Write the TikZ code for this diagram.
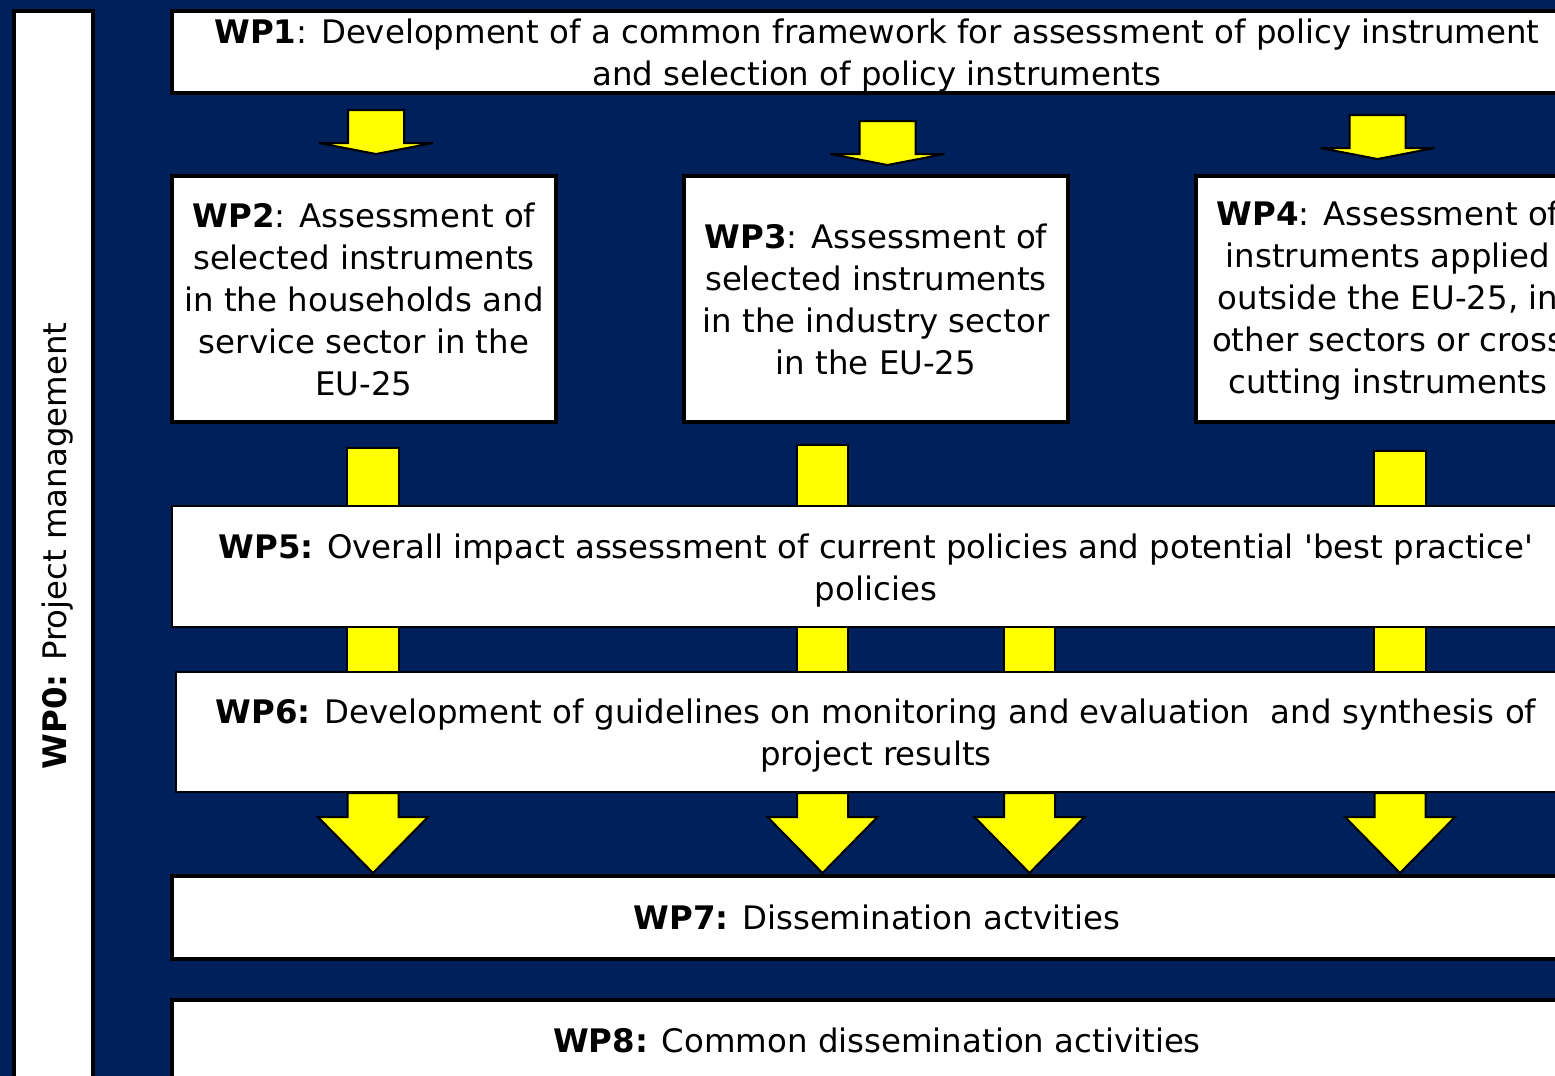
\documentclass[tikz,border=0pt]{standalone}
\usepackage{fontspec}
\setmainfont{DejaVu Sans}
\definecolor{navy}{RGB}{0,32,91}
\definecolor{arrowyellow}{RGB}{255,255,0}
\tikzset{
  wpbox/.style={draw=black, fill=white, line width=2pt, rectangle, inner sep=0pt, outer sep=0pt},
  thinbox/.style={wpbox, line width=0.9pt},
  wptext/.style={align=center, inner sep=0pt, font=\fontsize{16.2}{21}\selectfont},
  yel/.style={fill=arrowyellow, draw=black, line width=1pt, line join=miter},
  flatarrow/.pic={\filldraw[yel] (-28,0) -- (28,0) -- (28,33) -- (57,33) -- (0,44) -- (-57,33) -- (-28,33) -- cycle;},
  bigarrow/.pic={\filldraw[yel] (-25.5,0) -- (25.5,0) -- (25.5,24) -- (55,24) -- (0,80) -- (-55,24) -- (-25.5,24) -- cycle;}
}
\begin{document}
\begin{tikzpicture}[x=0.5pt,y=-0.5pt]
\fill[navy] (0,0) rectangle (1555,1076);
\useasboundingbox (0,0) rectangle (1555,1076);
\begin{scope}
\clip (0,0) rectangle (1555,1076);
% arrows WP1 -> WP2/3/4
\pic at (376,110) {flatarrow};
\pic at (887.5,121) {flatarrow};
\pic at (1377.5,115) {flatarrow};
% connectors WP2/3/4 -> WP5
\filldraw[yel] (347,448) rectangle (399,506);
\filldraw[yel] (797,445) rectangle (848,506);
\filldraw[yel] (1374,451) rectangle (1426,506);
% connectors WP5 -> WP6
\filldraw[yel] (347,627) rectangle (399,672);
\filldraw[yel] (797,627) rectangle (848,672);
\filldraw[yel] (1004,627) rectangle (1055,672);
\filldraw[yel] (1374,627) rectangle (1426,672);
% arrows WP6 -> WP7
\pic at (373,793) {bigarrow};
\pic at (822.5,793) {bigarrow};
\pic at (1029.5,793) {bigarrow};
\pic at (1400,793) {bigarrow};
% boxes
\node[wpbox, anchor=north west, minimum width=39.5pt, minimum height=545pt] (wp0) at (14,11) {};
\node[wptext, rotate=90, anchor=base] (wp0t) at (67,546) {\textbf{WP0:} Project management};
\node[wpbox, anchor=north west, minimum width=705pt, minimum height=41pt] (wp1) at (172,11) {};
\node[wptext] (wp1t) at ([yshift=-1.6pt]wp1.center)
  {\textbf{WP1}: Development of a common framework for assessment of policy instrument\\and selection of policy instruments};
\node[wpbox, anchor=north west, minimum width=192pt, minimum height=123pt] (wp2) at (172,176) {};
\node[wptext] (wp2t) at (wp2.center)
  {\textbf{WP2}: Assessment of\\selected instruments\\in the households and\\service sector in the\\EU-25};
\node[wpbox, anchor=north west, minimum width=192pt, minimum height=123pt] (wp3) at (684,176) {};
\node[wptext] (wp3t) at (wp3.center)
  {\textbf{WP3}: Assessment of\\selected instruments\\in the industry sector\\in the EU-25};
\node[wpbox, anchor=north west, minimum width=192pt, minimum height=123pt] (wp4) at (1196,176) {};
\node[wptext] (wp4t) at ([yshift=-1pt]wp4.center)
  {\textbf{WP4}: Assessment of\\instruments applied\\outside the EU-25, in\\other sectors or cross\\cutting instruments};
\node[thinbox, anchor=north west, minimum width=704pt, minimum height=60.5pt] (wp5) at (172,506) {};
\node[wptext] (wp5t) at ([yshift=-2pt]wp5.center)
  {\textbf{WP5:} Overall impact assessment of current policies and potential \textquotesingle best practice\textquotesingle\\policies};
\node[thinbox, anchor=north west, minimum width=700pt, minimum height=60pt] (wp6) at (176,672) {};
\node[wptext] (wp6t) at ([yshift=-2pt]wp6.center)
  {\textbf{WP6:} Development of guidelines on monitoring and evaluation\ \ and synthesis of\\project results};
\node[wpbox, anchor=north west, minimum width=705pt, minimum height=41.5pt] (wp7) at (172,876) {};
\node[wptext] (wp7t) at (wp7.center) {\textbf{WP7:} Dissemination actvities};
\node[wpbox, anchor=north west, minimum width=705pt, minimum height=40pt] (wp8) at (172,1000) {};
\node[wptext] (wp8t) at (wp8.center) {\textbf{WP8:} Common dissemination activities};
\end{scope}
\end{tikzpicture}
\end{document}
